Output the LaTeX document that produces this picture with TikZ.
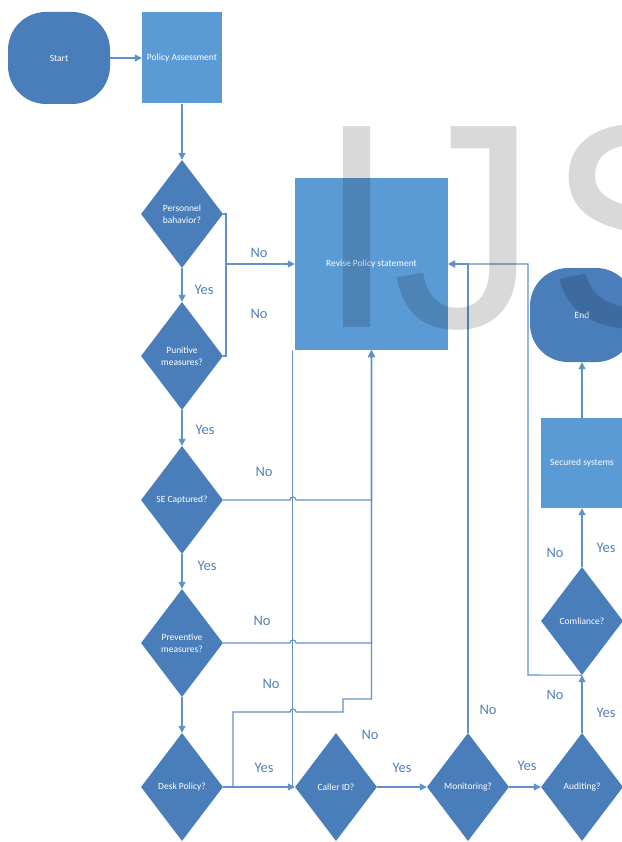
\documentclass[tikz,border=0pt]{standalone}
\usepackage{fontspec}
\setmainfont{Carlito}
\newfontfamily\wmfont{Liberation Sans}
\usetikzlibrary{shapes.geometric,arrows.meta}
\definecolor{dkblue}{RGB}{74,126,187}
\definecolor{ltblue}{RGB}{91,155,213}
\definecolor{lnblue}{RGB}{96,145,200}
\definecolor{lbl}{RGB}{84,128,185}
\tikzset{
  term/.style={rectangle, rounded corners=38pt, fill=dkblue, text=white, inner sep=0pt, font=\fontsize{9.5}{11}\selectfont, align=center},
  proc/.style={rectangle, fill=ltblue, text=white, inner sep=0pt, font=\fontsize{9.5}{11}\selectfont, align=center},
  dec/.style={diamond, aspect=0.76, fill=dkblue, text=white, inner sep=0pt, minimum width=82pt, minimum height=108pt, font=\fontsize{9.5}{11.5}\selectfont, align=center},
  ln/.style={draw=lnblue, line width=1.1pt},
  arr/.style={ln, -{Triangle[length=7pt,width=7pt]}},
  lab/.style={text=lbl, font=\fontsize{14.5}{14.5}\selectfont, inner sep=0pt},
  wm/.style={font=\wmfont\fontsize{292}{292}\selectfont, text=black, opacity=0.15, inner sep=0pt, anchor=base west}
}
\begin{document}
\begin{tikzpicture}[x=1pt,y=-1pt]
\useasboundingbox (0,0) rectangle (621,842);
\fill[white] (0,0) rectangle (621,842);

% nodes
\node[term, minimum width=102pt, minimum height=92pt] (start) at (59,58) {Start};
\node[proc, minimum width=80pt, minimum height=91pt] (pa) at (182,58) {Policy Assessment};
\node[dec] (pb) at (182,214) {Personnel\\bahavior?};
\node[dec] (pm) at (182,356) {Punitive\\measures?};
\node[dec] (se) at (182,500) {SE Captured?};
\node[dec] (pv) at (182,643) {Preventive\\measures?};
\node[dec] (dp) at (182,787) {Desk Policy?};
\node[dec] (cid) at (336,787) {Caller ID?};
\node[dec] (mon) at (468,787) {Monitoring?};
\node[dec] (aud) at (582,787) {Auditing?};
\node[dec] (comp) at (582,621) {Comliance?};
\node[proc, minimum width=153pt, minimum height=172pt] (rp) at (371.5,264) {Revise Policy statement};
\node[proc, minimum width=82pt, minimum height=90pt] (sec) at (582,463) {Secured systems};
\node[term, minimum width=104pt, minimum height=94pt] (end) at (582,315) {End};

% junction coordinates
\coordinate (j1) at (226,264);
\coordinate (d1) at (233,787);

% connectors
\draw[arr] (start) -- (pa);
\draw[arr] (pa) -- (pb);
\draw[arr] (pb) -- (pm);
\draw[arr] (pm) -- (se);
\draw[arr] (se) -- (pv);
\draw[arr] (pv) -- (dp);

\draw[ln] (pb.east) -- (226,214) -- (226,356) -- (pm.east);
\draw[arr] (j1) -- (rp.west);

\draw[arr] (se.east) -- (290,500) arc[start angle=180,end angle=0,radius=3pt] -- (se.east -| rp.south) -- (rp.south);
\draw[arr] (pv.east) -- (290,643) arc[start angle=180,end angle=0,radius=3pt] -- (pv.east -| rp.south) -- (rp.south);

\draw[arr] (dp.east) -- (cid.west);
\draw[arr] (d1) -- (233,712) -- (290,712) arc[start angle=180,end angle=0,radius=3pt] -- (343,712) -- (343,699) -- (rp.south |- 0,699) -- (rp.south);

\draw[ln] ([xshift=-2pt]cid.west) -- ([xshift=-2pt]cid.west |- rp.south);

\draw[arr] (cid.east) -- (mon.west);
\draw[arr] (mon.north) -- (mon.north |- rp.east) -- (rp.east);
\draw[arr] (mon.east) -- (aud.west);
\draw[arr] (aud.north) -- (comp.south);
\draw[arr] (comp.south) -- (528,675) -- (528,264) -- (rp.east);
\draw[arr] (comp.north) -- (sec.south);
\draw[arr] (sec.north) -- (end.south);

% labels
\node[lab] (n1) at (259,253) {No};
\node[lab] (n2) at (259,314) {No};
\node[lab] (n3) at (264,472) {No};
\node[lab] (n4) at (262,621) {No};
\node[lab] (n5) at (271,684) {No};
\node[lab] (n6) at (370,735) {No};
\node[lab] (n7) at (488,710) {No};
\node[lab] (n8) at (555,553) {No};
\node[lab] (n9) at (555,695) {No};
\node[lab] (y1) at (204,290) {Yes};
\node[lab] (y2) at (205,430) {Yes};
\node[lab] (y3) at (207,566) {Yes};
\node[lab] (y4) at (264,768) {Yes};
\node[lab] (y5) at (402,768) {Yes};
\node[lab] (y6) at (527,766) {Yes};
\node[lab] (y7) at (606,548) {Yes};
\node[lab] (y8) at (606,713) {Yes};

% watermark
\node[wm] (wi) at (316,327) {I};
\node[wm] (wj) at (392,327) {J};
\node[wm] (ws) at (546,327) {S};
\end{tikzpicture}
\end{document}
